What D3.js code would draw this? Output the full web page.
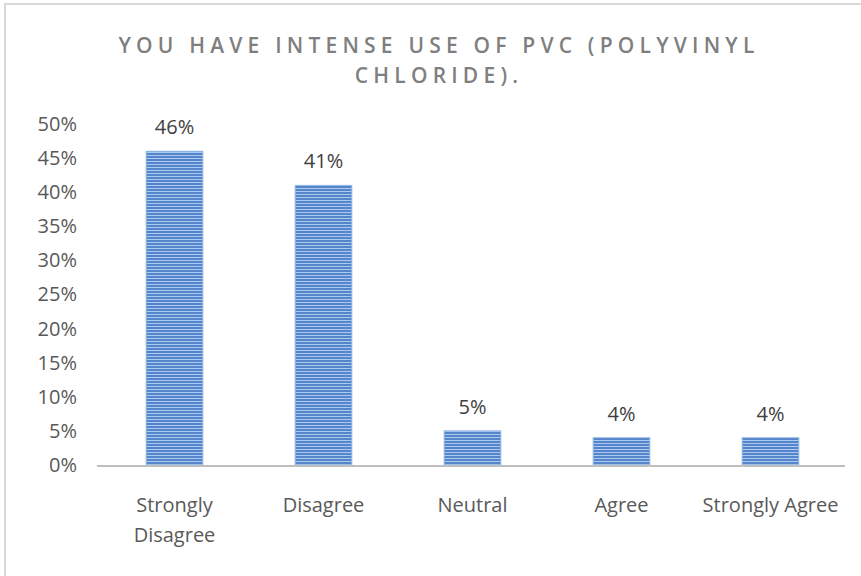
<!DOCTYPE html>
<html>
<head>
<meta charset="utf-8">
<script src="https://cdn.jsdelivr.net/npm/d3@7"></script>
<style>
  html, body { margin: 0; padding: 0; background: #fff; }
  svg { display: block; }
  text { font-family: "Open Sans", "Liberation Sans", sans-serif; }
</style>
</head>
<body>
<svg id="chart" width="861" height="576"></svg>
<script>
// Survey responses
const categories = ["Strongly Disagree", "Disagree", "Neutral", "Agree", "Strongly Agree"];
const categoryLines = [["Strongly", "Disagree"], ["Disagree"], ["Neutral"], ["Agree"], ["Strongly Agree"]];
const shares = [0.46, 0.41, 0.05, 0.04, 0.04];
const yTicks = [0, 0.05, 0.10, 0.15, 0.20, 0.25, 0.30, 0.35, 0.40, 0.45, 0.50];
const titleLines = ["YOU HAVE INTENSE USE OF PVC (POLYVINYL", "CHLORIDE)."];

const svg = d3.select("#chart");
const W = 861, H = 576;
const plot = { left: 100, right: 845, top: 124, bottom: 465 };
const labelSize = "20px";

// chart frame
svg.append("path")
  .attr("d", `M5,${H} L5,4 L${W},4`)
  .attr("fill", "none")
  .attr("stroke", "#d9d9d9")
  .attr("stroke-width", 2);

// striped bar fill
const defs = svg.append("defs");
const pat = defs.append("pattern").attr("id", "stripes")
  .attr("patternUnits", "userSpaceOnUse").attr("width", 861).attr("height", 3);
pat.append("rect").attr("width", 861).attr("height", 3).attr("fill", "#5585cb");
pat.append("rect").attr("y", 2).attr("width", 861).attr("height", 1).attr("fill", "#abc9ee");

const x = d3.scaleBand().domain(categories).range([plot.left, plot.right]).paddingInner(0.62).paddingOuter(0.31);
const y = d3.scaleLinear().domain([0, 0.5]).range([plot.bottom, plot.top]);

// y axis labels
const yAxis = d3.axisLeft(y).tickValues(yTicks).tickFormat(d3.format(".0%")).tickSize(0).tickPadding(0);
const yg = svg.append("g").attr("transform", "translate(77,0)").call(yAxis);
yg.select(".domain").remove();
yg.selectAll("text")
  .attr("fill", "#595959")
  .style("font-size", labelSize)
  .style("font-family", "'Open Sans', sans-serif");

// bars
const bars = svg.append("g");
bars.selectAll("rect.bar")
  .data(shares)
  .join("rect")
  .attr("class", "bar")
  .attr("x", (d, i) => x(categories[i]))
  .attr("width", x.bandwidth())
  .attr("y", d => y(d))
  .attr("height", d => y(0) - y(d))
  .attr("fill", "url(#stripes)")
  .attr("stroke", "#8fb4e3")
  .attr("stroke-width", 1);

// value labels
svg.append("g").selectAll("text")
  .data(shares)
  .join("text")
  .attr("x", (d, i) => x(categories[i]) + x.bandwidth() / 2)
  .attr("y", d => y(d) - 17)
  .attr("text-anchor", "middle")
  .attr("fill", "#404040")
  .style("font-size", labelSize)
  .text(d => d3.format(".0%")(d));

// x axis baseline
svg.append("line")
  .attr("x1", 97).attr("x2", plot.right)
  .attr("y1", y(0) + 1).attr("y2", y(0) + 1)
  .attr("stroke", "#bfbfbf").attr("stroke-width", 2);

// category labels
const cat = svg.append("g").selectAll("text")
  .data(categories)
  .join("text")
  .attr("x", d => x(d) + x.bandwidth() / 2)
  .attr("y", 512)
  .attr("text-anchor", "middle")
  .attr("fill", "#595959")
  .style("font-size", labelSize);
cat.each(function(d, i) {
  const t = d3.select(this);
  categoryLines[i].forEach((line, j) => {
    t.append("tspan").attr("x", x(d) + x.bandwidth() / 2).attr("dy", j === 0 ? 0 : 30).text(line);
  });
});

// title
svg.append("g").selectAll("text")
  .data(titleLines)
  .join("text")
  .attr("x", 439)
  .attr("y", (d, i) => 53 + i * 30)
  .attr("text-anchor", "middle")
  .attr("fill", "#7f7f7f")
  .style("font-size", "21px")
  .style("font-weight", "600")
  .style("letter-spacing", "5.2px")
  .text(d => d);
</script>
</body>
</html>
